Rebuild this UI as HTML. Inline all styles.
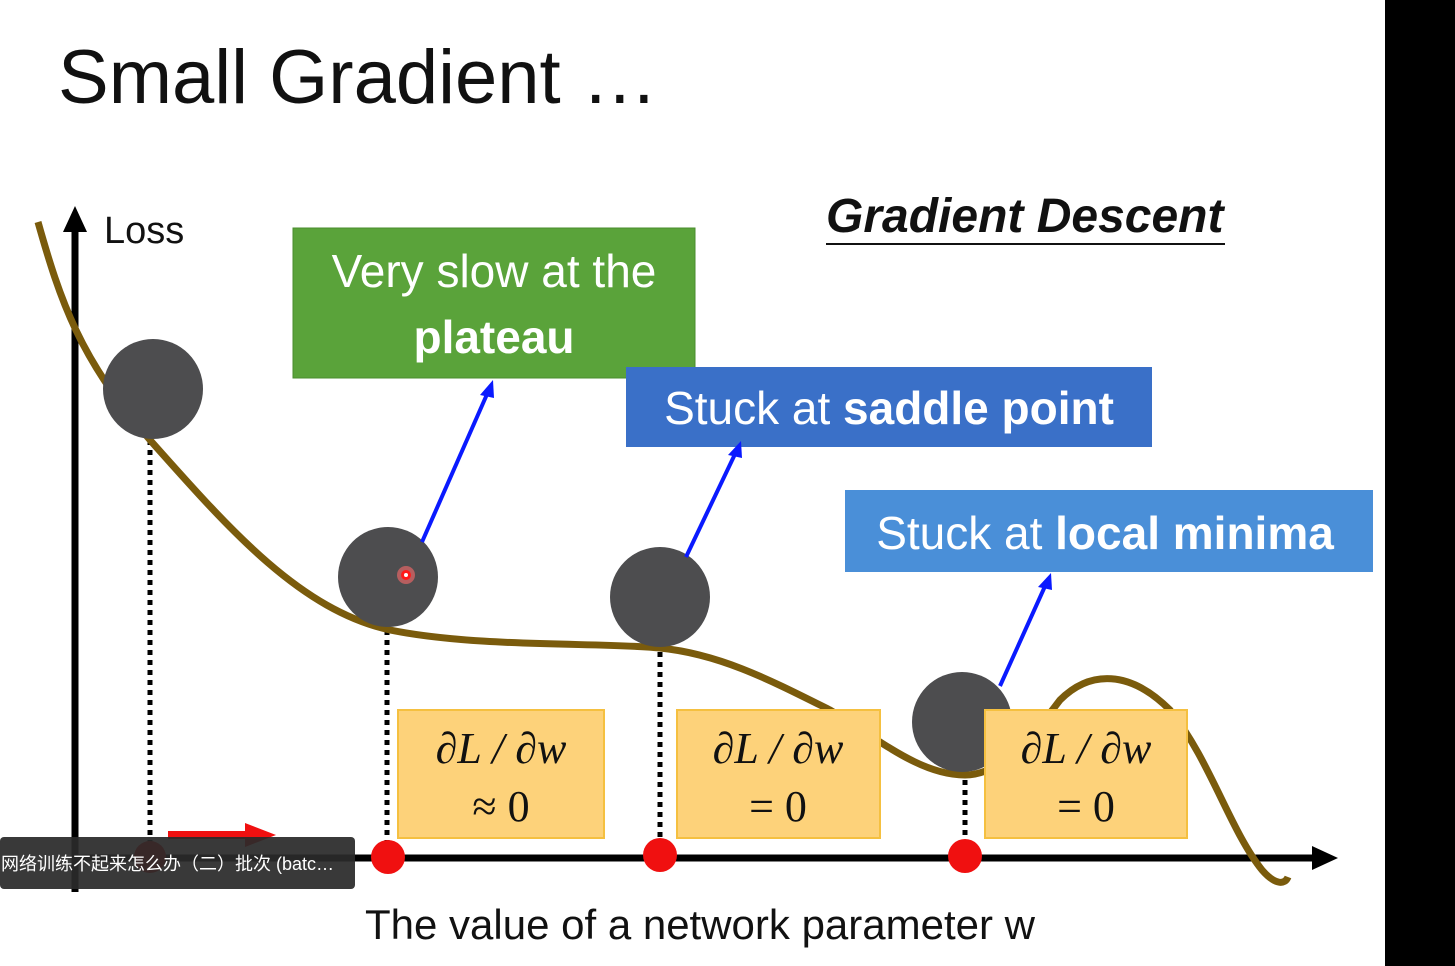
<!DOCTYPE html>
<html><head><meta charset="utf-8"><style>
html,body{margin:0;padding:0;background:#fff;}
svg{display:block;}
</style></head><body>
<svg width="1455" height="966" viewBox="0 0 1455 966" xmlns="http://www.w3.org/2000/svg" font-family="Liberation Sans, DejaVu Sans, sans-serif">
<rect width="1455" height="966" fill="#fff"/>
<rect x="1385" y="0" width="70" height="966" fill="#000"/>
<text x="58" y="103" font-size="76" fill="#111">Small Gradient …</text>
<text x="826" y="232" font-size="48" font-weight="bold" font-style="italic" fill="#111">Gradient Descent</text>
<line x1="826" y1="244" x2="1225" y2="244" stroke="#111" stroke-width="2"/>
<text x="104" y="243" font-size="38" fill="#111">Loss</text>
<line x1="75" y1="228" x2="75" y2="892" stroke="#000" stroke-width="7"/>
<polygon points="75,206 63,232 87,232" fill="#000"/>
<line x1="72" y1="858" x2="1318" y2="858" stroke="#000" stroke-width="7"/>
<polygon points="1338,858 1312,846 1312,870" fill="#000"/>
<g stroke="#000" stroke-width="5" stroke-dasharray="5,5">
<line x1="150" y1="440" x2="150" y2="850"/>
<line x1="387" y1="630" x2="387" y2="842"/>
<line x1="660" y1="652" x2="660" y2="840"/>
<line x1="965" y1="780" x2="965" y2="840"/>
</g>
<path d="M38,222 C60,300 80,360 150,440 C230,530 300,610 390,630 C480,648 600,642 660,648 C720,654 770,680 830,710 C880,740 920,775 965,775 C1000,775 1030,740 1060,700 C1090,670 1130,670 1170,710 C1210,760 1230,830 1262,870 C1275,885 1285,885 1288,877" fill="none" stroke="#7a5b0c" stroke-width="7"/>
<g fill="#4d4d4f">
<circle cx="153" cy="389" r="50"/>
<circle cx="388" cy="577" r="50"/>
<circle cx="660" cy="597" r="50"/>
<circle cx="962" cy="722" r="50"/>
</g>
<circle cx="406" cy="575" r="9" fill="#ff6a6a" opacity="0.6"/>
<circle cx="406" cy="575" r="5" fill="#ff1a1a"/>
<circle cx="406" cy="575" r="2" fill="#fff"/>
<rect x="293" y="228" width="402" height="150" fill="#5aa33a" stroke="#4a8c2e" stroke-width="1"/>
<text x="494" y="287" font-size="46" fill="#fff" text-anchor="middle">Very slow at the</text>
<text x="494" y="353" font-size="46" font-weight="bold" fill="#fff" text-anchor="middle">plateau</text>
<rect x="626" y="367" width="526" height="80" fill="#3a70c8"/>
<text x="889" y="424" font-size="46" fill="#fff" text-anchor="middle">Stuck at <tspan font-weight="bold">saddle point</tspan></text>
<rect x="845" y="490" width="528" height="82" fill="#4a8fd8"/>
<text x="1105" y="549" font-size="46" fill="#fff" text-anchor="middle">Stuck at <tspan font-weight="bold">local minima</tspan></text>
<g stroke="#0a1aff" stroke-width="4" fill="#0a1aff">
<line x1="422" y1="542" x2="488" y2="392"/>
<line x1="686" y1="557" x2="736" y2="452"/>
<line x1="1000" y1="686" x2="1046" y2="584"/>
</g>
<polygon points="493,380 480,395 494,398" fill="#0a1aff"/>
<polygon points="741,441 728,455 742,458" fill="#0a1aff"/>
<polygon points="1051,573 1038,587 1052,590" fill="#0a1aff"/>
<g fill="#fdd27a" stroke="#f5c040" stroke-width="2">
<rect x="398" y="710" width="206" height="128"/>
<rect x="677" y="710" width="203" height="128"/>
<rect x="985" y="710" width="202" height="128"/>
</g>
<g font-family="Liberation Serif, DejaVu Serif, serif" font-size="44" fill="#111" text-anchor="middle">
<text x="501" y="763" font-style="italic">∂L / ∂w</text>
<text x="501" y="821">≈ 0</text>
<text x="778" y="763" font-style="italic">∂L / ∂w</text>
<text x="778" y="821">= 0</text>
<text x="1086" y="763" font-style="italic">∂L / ∂w</text>
<text x="1086" y="821">= 0</text>
</g>
<g fill="#f01010">
<circle cx="388" cy="857" r="17"/>
<circle cx="660" cy="855" r="17"/>
<circle cx="965" cy="856" r="17"/>
<circle cx="150" cy="857" r="16"/>
</g>
<line x1="168" y1="835" x2="250" y2="835" stroke="#f01010" stroke-width="8"/>
<polygon points="276,835 245,823 245,847" fill="#f01010"/>
<text x="700" y="939" font-size="42" fill="#111" text-anchor="middle">The value of a network parameter w</text>
<rect x="0" y="837" width="355" height="52" rx="4" fill="#2a2a2a" opacity="0.93"/>
<text x="1" y="870" font-size="18" fill="#fff" font-family="Liberation Sans, Noto Sans CJK SC, sans-serif">网络训练不起来怎么办（二）批次 (batc…</text>
</svg>
</body></html>
